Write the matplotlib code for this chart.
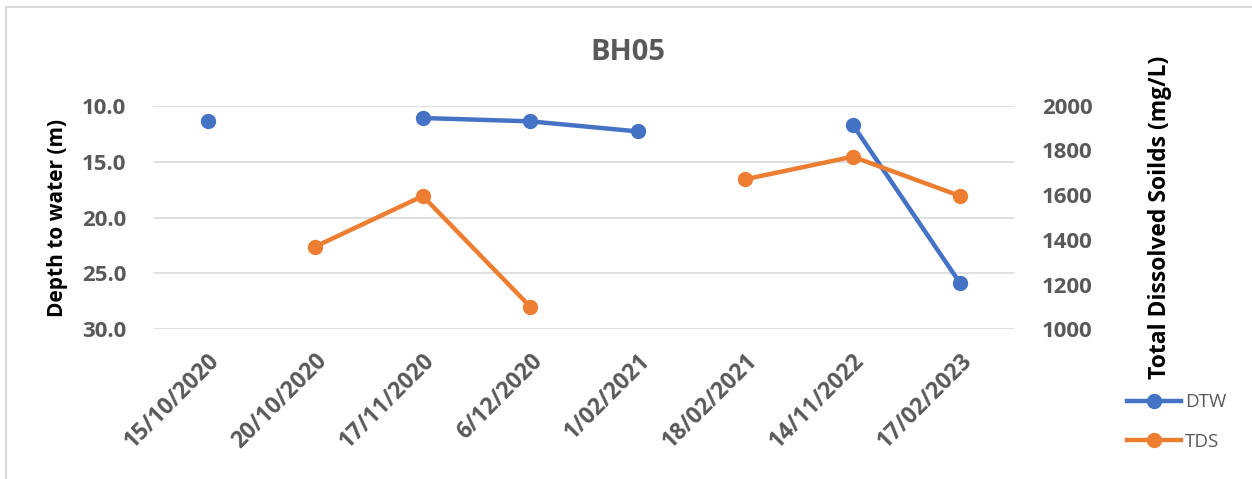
import numpy as np
import matplotlib
matplotlib.use("Agg")
import matplotlib.pyplot as plt
from matplotlib.lines import Line2D
from matplotlib.patches import Rectangle

dates = ["15/10/2020", "20/10/2020", "17/11/2020", "6/12/2020",
         "1/02/2021", "18/02/2021", "14/11/2022", "17/02/2023"]
dtw = [11.4, np.nan, 11.1, 11.4, 12.3, np.nan, 11.7, 25.9]          # m
tds = [np.nan, 1370, 1596, 1101, np.nan, 1671, 1772, 1596]         # mg/L

blue = "#4472C4"
orange = "#ED7D31"
grey = "#595959"
grid = "#D9D9D9"

plt.rcParams["font.family"] = ["Open Sans", "DejaVu Sans"]

W, H = 1252, 479
fig = plt.figure(figsize=(W / 100, H / 100), dpi=100)

# chart area frame
fig.patches.append(Rectangle((6 / W, -0.05), 1.2, (H - 7) / H + 0.05,
                             transform=fig.transFigure, fill=False,
                             edgecolor=grid, linewidth=1.5))

left, right, top, bottom = 154, 1014, 105.7, 329.3
ax = fig.add_axes([left / W, 1 - bottom / H, (right - left) / W, (bottom - top) / H])
ax2 = ax.twinx()

x = np.arange(len(dates))

ax.plot(x, dtw, color=blue, lw=3.2, marker="o", ms=10, zorder=3)
ax2.plot(x, tds, color=orange, lw=3.2, marker="o", ms=10, zorder=3)

ax.set_xlim(-0.5, len(dates) - 0.5)
ax.set_ylim(30, 10)
ax.set_yticks([10, 15, 20, 25, 30])
ax.set_yticklabels([f"{v:.1f}" for v in [10, 15, 20, 25, 30]])
ax2.set_ylim(1000, 2000)
ax2.set_yticks(np.arange(1000, 2001, 200))

ax.grid(axis="y", color=grid, lw=1.2)
ax.set_axisbelow(True)
for a in (ax, ax2):
    for s in a.spines.values():
        s.set_visible(False)
    a.tick_params(length=0)

ax.tick_params(axis="y", labelsize=16, labelcolor=grey, pad=20)
ax2.tick_params(axis="y", labelsize=16, labelcolor=grey, pad=20)
for t in ax.get_yticklabels() + ax2.get_yticklabels():
    t.set_fontweight("bold")

ax.set_xticks(x)
ax.set_xticklabels(dates, rotation=45, ha="right", rotation_mode="anchor",
                   fontsize=16.5, fontweight="bold", color=grey)
ax.tick_params(axis="x", pad=14)

ax.set_ylabel("Depth to water (m)", fontsize=15, fontweight="bold",
              color="black", labelpad=10)
ax2.set_ylabel("Total Dissolved Soilds (mg/L)", fontsize=16.5, fontweight="bold",
               color="black", labelpad=40)

fig.text(628 / W, 1 - 52 / H, "BH05", ha="center", va="center",
         fontsize=21, fontweight="bold", color=grey)

handles = [Line2D([], [], color=blue, lw=3.2, marker="o", ms=10),
           Line2D([], [], color=orange, lw=3.2, marker="o", ms=10)]
fig.legend(handles, ["DTW", "TDS"], loc="center left",
           bbox_to_anchor=(1110 / W, 1 - 422 / H), frameon=False,
           fontsize=13.5, labelcolor=grey, handlelength=2.9,
           handletextpad=0.2, labelspacing=1.15)

fig.savefig("out.png", dpi=100)
